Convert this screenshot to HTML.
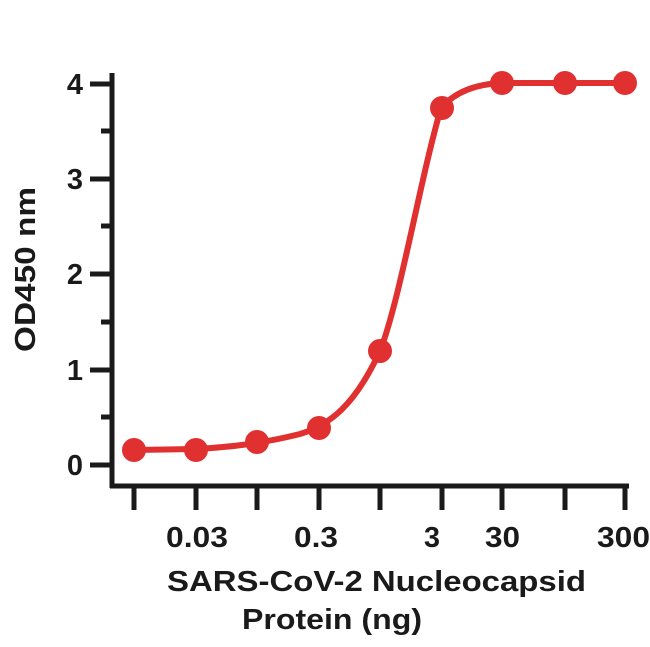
<!DOCTYPE html>
<html><head><style>body{margin:0;background:#fff}</style></head><body>
<svg width="650" height="642" viewBox="0 0 650 642" xmlns="http://www.w3.org/2000/svg" font-family="Liberation Sans, sans-serif" font-weight="bold">
<g stroke="#1a1a1a" stroke-width="5" fill="none">
<line x1="112" y1="73" x2="112" y2="488"/>
<line x1="110" y1="486" x2="629" y2="486"/>
<line x1="90" y1="84" x2="112" y2="84"/>
<line x1="90" y1="179" x2="112" y2="179"/>
<line x1="90" y1="274" x2="112" y2="274"/>
<line x1="90" y1="370" x2="112" y2="370"/>
<line x1="90" y1="465" x2="112" y2="465"/>
<line x1="101" y1="131" x2="112" y2="131"/>
<line x1="101" y1="226" x2="112" y2="226"/>
<line x1="101" y1="322" x2="112" y2="322"/>
<line x1="101" y1="417" x2="112" y2="417"/>
<line x1="134" y1="486" x2="134" y2="510"/>
<line x1="196" y1="486" x2="196" y2="510"/>
<line x1="257" y1="486" x2="257" y2="510"/>
<line x1="319" y1="486" x2="319" y2="510"/>
<line x1="380" y1="486" x2="380" y2="510"/>
<line x1="442" y1="486" x2="442" y2="510"/>
<line x1="502" y1="486" x2="502" y2="510"/>
<line x1="565" y1="486" x2="565" y2="510"/>
<line x1="625" y1="486" x2="625" y2="510"/>
</g>
<g font-size="29" fill="#1a1a1a" text-anchor="end">
<text x="83" y="94">4</text><text x="83" y="189">3</text><text x="83" y="284">2</text><text x="83" y="380">1</text><text x="83" y="475">0</text>
</g>
<g font-size="29" fill="#1a1a1a">
<text x="166" y="547" textLength="62" lengthAdjust="spacingAndGlyphs">0.03</text>
<text x="294" y="547" textLength="44" lengthAdjust="spacingAndGlyphs">0.3</text>
<text x="424" y="547" textLength="16" lengthAdjust="spacingAndGlyphs">3</text>
<text x="485" y="547" textLength="35" lengthAdjust="spacingAndGlyphs">30</text>
<text x="597" y="547" textLength="53" lengthAdjust="spacingAndGlyphs">300</text>
<text x="167" y="591" textLength="419" lengthAdjust="spacingAndGlyphs">SARS-CoV-2 Nucleocapsid</text>
<text x="242" y="629" textLength="180" lengthAdjust="spacingAndGlyphs">Protein (ng)</text>
<text transform="translate(35,352) rotate(-90)" textLength="165" lengthAdjust="spacingAndGlyphs">OD450 nm</text>
</g>
<path d="M134,450 L196,449 C230,447 260,444 300,434 C330,425 355,405 380,351 C400,300 420,180 441,108 C455,92 475,84 502,83 L625,83" stroke="#e03030" stroke-width="6" fill="none" stroke-linejoin="round"/>
<g fill="#e03030">
<circle cx="134" cy="450" r="12"/><circle cx="196" cy="450" r="12"/><circle cx="257" cy="442" r="12"/><circle cx="319" cy="428" r="12"/><circle cx="380" cy="351" r="12"/><circle cx="442" cy="108" r="12"/><circle cx="502" cy="83" r="12"/><circle cx="565" cy="83" r="12"/><circle cx="625" cy="83" r="12"/>
</g>
</svg>
</body></html>
